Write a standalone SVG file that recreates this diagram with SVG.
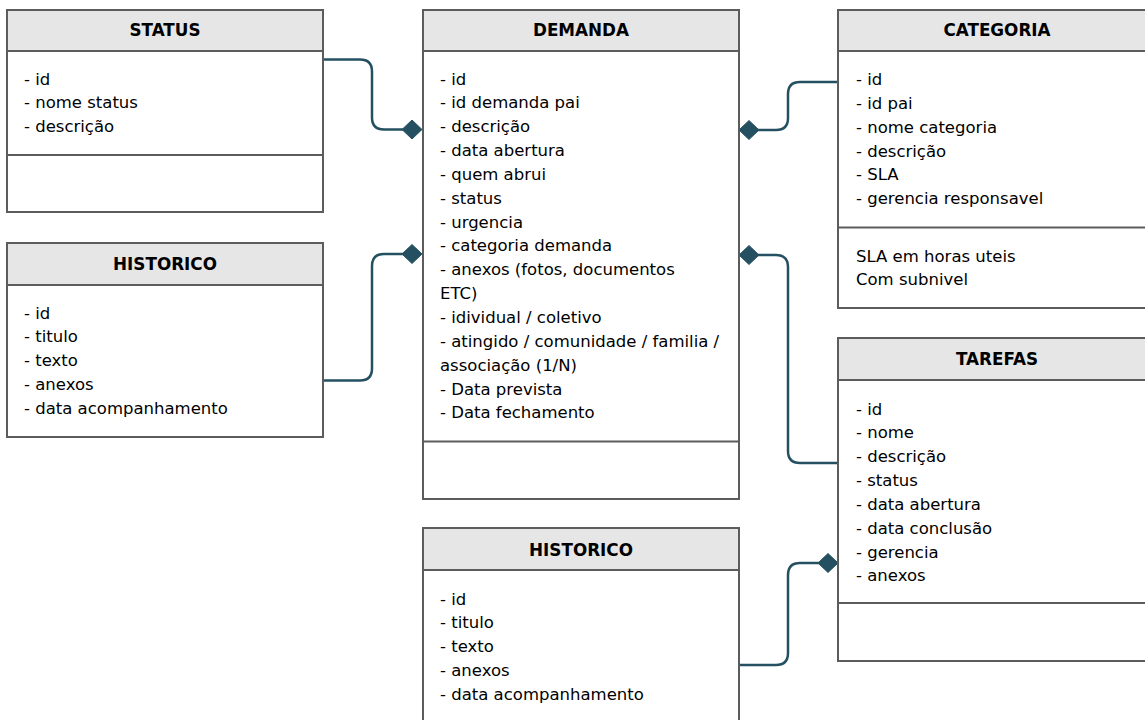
<svg xmlns="http://www.w3.org/2000/svg" width="1145" height="720" viewBox="0 0 1145 720">
<style>
.box{fill:#ffffff;stroke:#5c5c5c;stroke-width:2}
.hdr{fill:#e6e6e6;stroke:#5c5c5c;stroke-width:2}
.sep{stroke:#5c5c5c;stroke-width:2;fill:none}
.title{font-family:"DejaVu Sans","Liberation Sans",sans-serif;font-size:16.8px;font-weight:bold;fill:#000;text-anchor:middle}
.body{font-family:"DejaVu Sans","Liberation Sans",sans-serif;font-size:16.5px;fill:#000}
.conn{fill:none;stroke:#245061;stroke-width:2.5}
.dia{fill:#245061;stroke:#245061;stroke-width:1}
</style>
<rect width="1145" height="720" fill="#ffffff"/>

<g id="connectors">
  <path class="conn" d="M323,59.5 H360 Q372,59.5 372,71.5 V117.5 Q372,129.5 384,129.5 H403"/>
  <polygon class="dia" points="402,129.5 412,120 422,129.5 412,139"/>
  <path class="conn" d="M323,380.5 H360 Q372,380.5 372,368.5 V266 Q372,254 384,254 H403"/>
  <polygon class="dia" points="402,254 412,244.5 422,254 412,263.5"/>
  <path class="conn" d="M758,130 H776 Q788,130 788,118 V94 Q788,82 800,82 H838"/>
  <polygon class="dia" points="739,130 749,120.5 759,130 749,139.5"/>
  <path class="conn" d="M758,255 H776 Q788,255 788,267 V451 Q788,463 800,463 H838"/>
  <polygon class="dia" points="739,255 749,245.5 759,255 749,264.5"/>
  <path class="conn" d="M739,665 H776 Q788,665 788,653 V575 Q788,563 800,563 H819"/>
  <polygon class="dia" points="818,563 828,553.5 838,563 828,572.5"/>
</g>

<g id="status">
  <rect class="box" x="7" y="10" width="316" height="202"/>
  <rect class="hdr" x="7" y="10" width="316" height="41"/>
  <line class="sep" x1="7" y1="155" x2="323" y2="155"/>
  <text class="title" x="165" y="36">STATUS</text>
  <text class="body" x="24" y="84.5"><tspan x="24">- id</tspan><tspan x="24" dy="23.85">- nome status</tspan><tspan x="24" dy="23.85">- descrição</tspan></text>
</g>

<g id="historico1">
  <rect class="box" x="7" y="243" width="316" height="194"/>
  <rect class="hdr" x="7" y="243" width="316" height="42"/>
  <text class="title" x="165" y="270">HISTORICO</text>
  <text class="body" x="24" y="318.5"><tspan x="24">- id</tspan><tspan x="24" dy="23.85">- titulo</tspan><tspan x="24" dy="23.85">- texto</tspan><tspan x="24" dy="23.85">- anexos</tspan><tspan x="24" dy="23.85">- data acompanhamento</tspan></text>
</g>

<g id="demanda">
  <rect class="box" x="423" y="10" width="316" height="489"/>
  <rect class="hdr" x="423" y="10" width="316" height="41"/>
  <line class="sep" x1="423" y1="441.5" x2="739" y2="441.5"/>
  <text class="title" x="581" y="36">DEMANDA</text>
  <text class="body" x="440" y="84.5"><tspan x="440">- id</tspan><tspan x="440" dy="23.85">- id demanda pai</tspan><tspan x="440" dy="23.85">- descrição</tspan><tspan x="440" dy="23.85">- data abertura</tspan><tspan x="440" dy="23.85">- quem abrui</tspan><tspan x="440" dy="23.85">- status</tspan><tspan x="440" dy="23.85">- urgencia</tspan><tspan x="440" dy="23.85">- categoria demanda</tspan><tspan x="440" dy="23.85">- anexos (fotos, documentos</tspan><tspan x="440" dy="23.85">ETC)</tspan><tspan x="440" dy="23.85">- idividual / coletivo</tspan><tspan x="440" dy="23.85">- atingido / comunidade / familia /</tspan><tspan x="440" dy="23.85">associação (1/N)</tspan><tspan x="440" dy="23.85">- Data prevista</tspan><tspan x="440" dy="23.85">- Data fechamento</tspan></text>
</g>

<g id="categoria">
  <rect class="box" x="838" y="10" width="316" height="298"/>
  <rect class="hdr" x="838" y="10" width="316" height="41"/>
  <line class="sep" x1="838" y1="227.5" x2="1154" y2="227.5"/>
  <text class="title" x="997" y="36">CATEGORIA</text>
  <text class="body" x="856" y="85"><tspan x="856">- id</tspan><tspan x="856" dy="23.85">- id pai</tspan><tspan x="856" dy="23.85">- nome categoria</tspan><tspan x="856" dy="23.85">- descrição</tspan><tspan x="856" dy="23.85">- SLA</tspan><tspan x="856" dy="23.85">- gerencia responsavel</tspan></text>
  <text class="body" x="856" y="261.5"><tspan x="856">SLA em horas uteis</tspan><tspan x="856" dy="23.85">Com subnivel</tspan></text>
</g>

<g id="tarefas">
  <rect class="box" x="838" y="338" width="316" height="323"/>
  <rect class="hdr" x="838" y="338" width="316" height="42"/>
  <line class="sep" x1="838" y1="603" x2="1154" y2="603"/>
  <text class="title" x="997" y="365">TAREFAS</text>
  <text class="body" x="856" y="414.5"><tspan x="856">- id</tspan><tspan x="856" dy="23.85">- nome</tspan><tspan x="856" dy="23.85">- descrição</tspan><tspan x="856" dy="23.85">- status</tspan><tspan x="856" dy="23.85">- data abertura</tspan><tspan x="856" dy="23.85">- data conclusão</tspan><tspan x="856" dy="23.85">- gerencia</tspan><tspan x="856" dy="23.85">- anexos</tspan></text>
</g>

<g id="historico2">
  <rect class="box" x="423" y="528" width="316" height="210"/>
  <rect class="hdr" x="423" y="528" width="316" height="42"/>
  <text class="title" x="581" y="556">HISTORICO</text>
  <text class="body" x="440" y="604.5"><tspan x="440">- id</tspan><tspan x="440" dy="23.85">- titulo</tspan><tspan x="440" dy="23.85">- texto</tspan><tspan x="440" dy="23.85">- anexos</tspan><tspan x="440" dy="23.85">- data acompanhamento</tspan></text>
</g>
</svg>
